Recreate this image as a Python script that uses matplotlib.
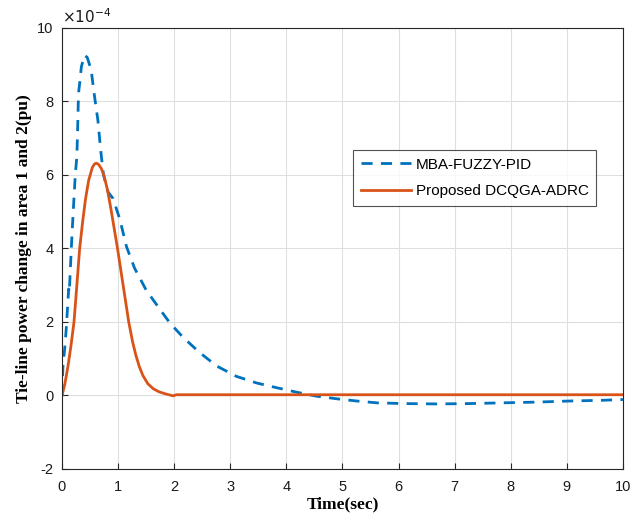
import matplotlib
matplotlib.use("Agg")
import matplotlib.pyplot as plt

# Data (values in units of 1e-4 pu)
t_mba = [0, 0.01, 0.018, 0.05, 0.08, 0.107, 0.12, 0.13, 0.166, 0.2, 0.237, 0.265, 0.28, 0.29,
         0.3, 0.315, 0.345, 0.4, 0.45, 0.52, 0.58, 0.64, 0.69, 0.74, 0.82, 0.91, 1.03, 1.15,
         1.295, 1.5, 1.71, 1.92, 2.16, 2.46, 2.76, 3.11, 3.47, 3.83, 4.18, 4.54, 4.9, 5.25,
         5.61, 6.08, 6.68, 7.27, 7.87, 8.46, 9.06, 9.65, 10.0]
v_mba = [0, 0.5, 0.8, 1.3, 1.9, 2.6, 2.9, 2.8, 4.0, 5.0, 6.0, 6.5, 7.3, 7.95,
         8.3, 8.49, 8.94, 9.26, 9.2, 8.86, 8.14, 7.49, 6.67, 6.0, 5.54, 5.36, 4.8, 4.05,
         3.46, 2.87, 2.42, 1.98, 1.58, 1.16, 0.8, 0.52, 0.34, 0.21, 0.09, -0.02, -0.09, -0.15,
         -0.2, -0.22, -0.23, -0.22, -0.2, -0.18, -0.15, -0.13, -0.11]

t_prop = [0, 0.05, 0.107, 0.16, 0.214, 0.265, 0.315, 0.37, 0.42, 0.475, 0.54, 0.58, 0.612,
          0.65, 0.7, 0.75, 0.81, 0.87, 0.93, 0.99, 1.05, 1.12, 1.19, 1.26, 1.32, 1.38, 1.44,
          1.53, 1.63, 1.73, 1.83, 1.93, 1.98, 2.04, 3.0, 5.0, 7.0, 10.0]
v_prop = [0, 0.3, 0.8, 1.35, 2.0, 3.0, 4.0, 4.75, 5.35, 5.85, 6.2, 6.3, 6.32,
          6.29, 6.18, 5.98, 5.6, 5.1, 4.55, 4.0, 3.4, 2.7, 2.0, 1.45, 1.08, 0.78, 0.55,
          0.32, 0.18, 0.1, 0.05, 0.01, -0.01, 0.02, 0.02, 0.02, 0.02, 0.02]

labels = ["MBA-FUZZY-PID", "Proposed DCQGA-ADRC"]
xticks = list(range(0, 11))
yticks = [-2, 0, 2, 4, 6, 8, 10]

plt.rcParams['font.family'] = ['Liberation Sans', 'DejaVu Sans']
plt.rcParams['axes.unicode_minus'] = False
fig = plt.figure(figsize=(6.43, 5.24), dpi=100)
ax = fig.add_axes([0.0964, 0.105, 0.8724, 0.8416])

ax.plot(t_mba, v_mba, color='#0072BD', lw=2.0, linestyle=(0, (4, 3)), label=labels[0])
ax.plot(t_prop, v_prop, color='#D95319', lw=2.0, label=labels[1])

ax.set_xlim(0, 10)
ax.set_ylim(-2, 10)
ax.set_xticks(xticks)
ax.set_yticks(yticks)
ax.tick_params(direction='in', labelsize=10.5, length=4, color='#262626', labelcolor='#1a1a1a',
               top=False, right=False)
ax.tick_params(axis='x', pad=8)
ax.tick_params(axis='y', pad=6)
ax.grid(True, color='#dfdfdf', linewidth=0.8)
ax.set_axisbelow(True)
for s in ax.spines.values():
    s.set_color('#262626')
    s.set_linewidth(0.8)

ax.set_xlabel('Time(sec)', fontfamily='Liberation Serif', fontweight='bold', fontsize=12.5, labelpad=2)
ax.set_ylabel('Tie-line power change in area 1 and 2(pu)', fontfamily='Liberation Serif',
              fontweight='bold', fontsize=12.5, labelpad=4)

ax.text(0.0, 1.005, r'$\times10^{-4}$', transform=ax.transAxes, fontsize=11, color='#1a1a1a',
        ha='left', va='bottom', math_fontfamily='dejavusans')

leg = ax.legend(loc='upper left', bbox_to_anchor=(0.519, 0.723), fontsize=11, frameon=True,
                fancybox=False, edgecolor='#262626', handlelength=3.3, borderpad=0.5,
                labelspacing=0.8, handletextpad=0.3, borderaxespad=0)
leg.get_frame().set_linewidth(0.8)

fig.savefig('out.png', dpi=100)
